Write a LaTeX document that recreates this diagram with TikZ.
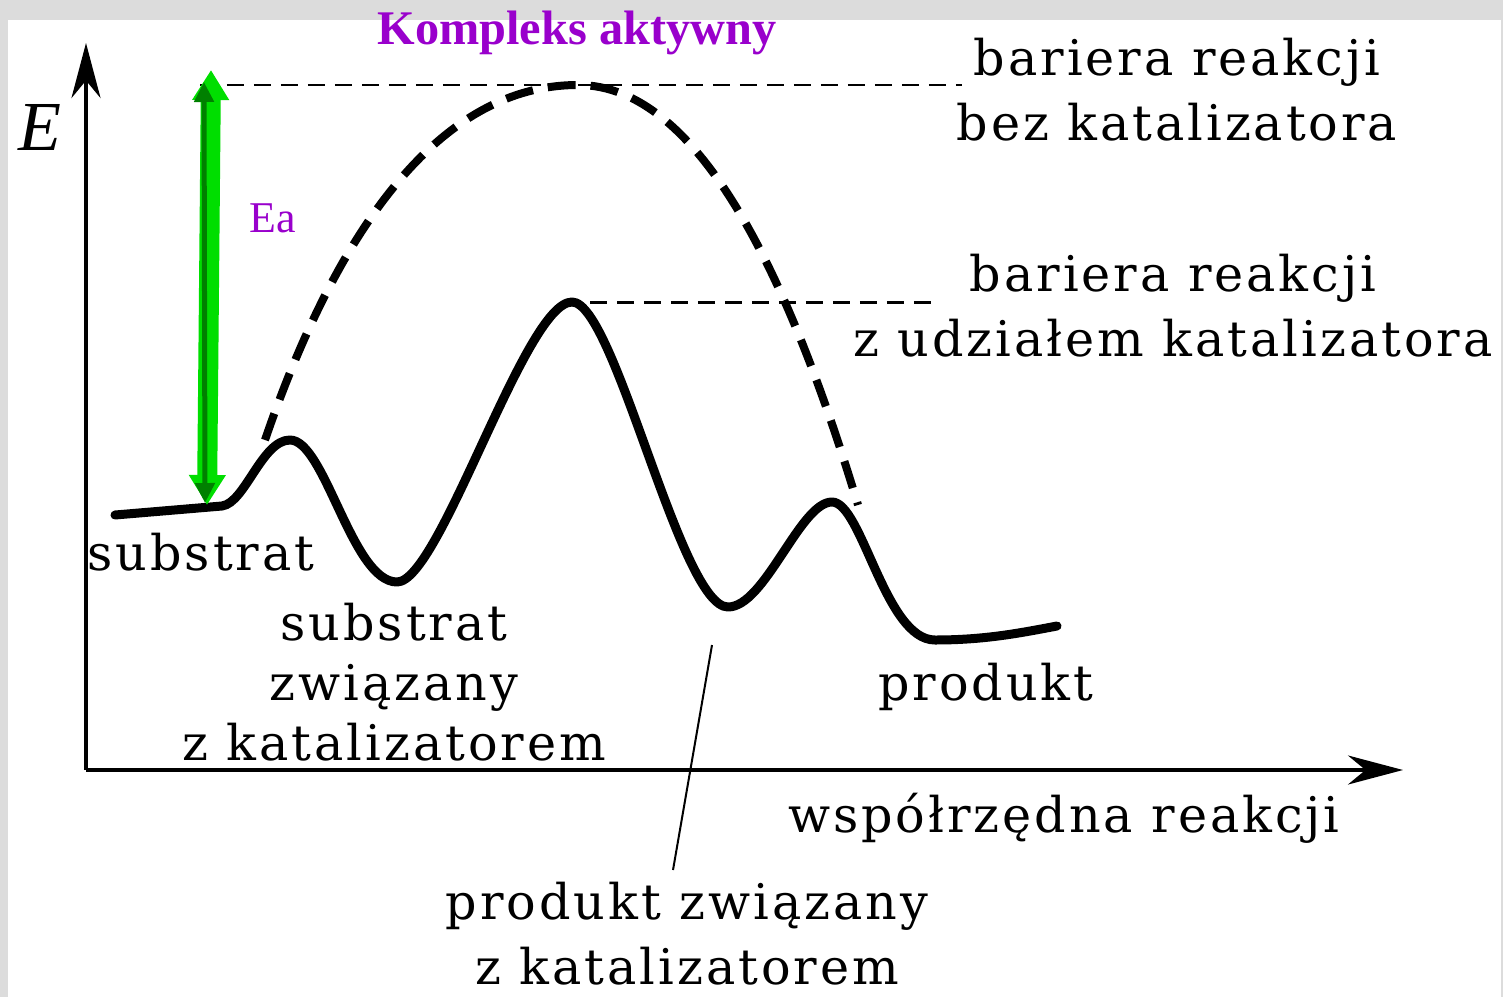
\documentclass[tikz,border=0pt]{standalone}
\usepackage{fontspec}
\setmainfont{DejaVu Serif}[LetterSpace=6]
\newfontfamily\timesfont{Liberation Serif}
\usepackage{xcolor}
\usetikzlibrary{arrows.meta,positioning,calc}
\definecolor{kpurple}{RGB}{153,0,204}
\definecolor{ealight}{RGB}{0,222,0}
\definecolor{eadark}{RGB}{0,128,0}
\definecolor{frame}{RGB}{220,220,220}
\newcommand{\lblfont}{\fontsize{28}{37}\selectfont}

\begin{document}
\begin{tikzpicture}[
    x=0.02cm, y=-0.02cm,
    axis/.style={line width=0.08cm, -{Stealth[length=1.1cm, width=0.58cm, inset=0.35cm]}},
    path/.style={line width=0.18cm, line cap=round, line join=round},
    oldpath/.style={line width=0.16cm, dash pattern=on 0.56cm off 0.3cm},
    level/.style={line width=0.06cm, dash pattern=on 0.34cm off 0.2cm},
    lead/.style={line width=0.04cm},
    lbl/.style={font=\lblfont, align=center, inner sep=0pt},
    tag/.style={font=\timesfont\fontsize{25}{30}\selectfont, text=kpurple, inner sep=0pt}
]
% --- Frame ---
\useasboundingbox (0,0) rectangle (1503,997);
\fill[frame] (0,0) rectangle (1503,997);
\fill[white] (8,20) rectangle (1501,997);

% --- Axes ---
\coordinate (O)    at (86,770);
\coordinate (Ytop) at (86,43);
\coordinate (Xend) at (1403,770);
\draw[axis] (O) -- (Ytop);
\draw[axis] (O) -- (Xend);
\node[inner sep=0pt, font=\timesfont\itshape\fontsize{40}{40}\selectfont] (E) at (40,127) {E};
\node[lbl, anchor=base] (coord) at (1064,832) {współrzędna reakcji};

% --- Barrier levels ---
\coordinate (topL) at (200,85);
\coordinate (topR) at (962,85);
\coordinate (catL) at (590,302);
\coordinate (catR) at (937,302);
\draw[level] (topL) -- (topR);
\draw[level] (catL) -- (catR);

% --- Path without catalyst ---
\draw[oldpath] (265,440) .. controls (330,250) and (430,85) .. (578,85)
    .. controls (700,85) and (790,280) .. (858,505);

% --- Path with catalyst ---
\draw[path] (115,515) -- (222,506)
    .. controls (245,503) and (262,440) .. (290,440)
    .. controls (325,440) and (352,582) .. (397,582)
    .. controls (440,582) and (525,302) .. (572,302)
    .. controls (615,302) and (680,607) .. (728,607)
    .. controls (765,607) and (800,502) .. (832,502)
    .. controls (862,502) and (885,640) .. (935,640)
    .. controls (985,640) and (1020,633) .. (1057,626);

% --- Activation energy ---
\draw[line width=0.4cm, ealight, {Triangle[width=0.7cm, length=0.6cm]}-{Triangle[width=0.7cm, length=0.6cm]}]
    (211,70) -- (207,505);
\draw[line width=0.1cm, eadark, {Triangle[width=0.38cm, length=0.4cm]}-{Triangle[width=0.38cm, length=0.4cm]}]
    (204,82) -- (205,503);
\node[tag, anchor=base] (Ea) at (273,232) {Ea};

% --- Labels ---
\node[font=\timesfont\bfseries\fontsize{27.5}{30}\selectfont, text=kpurple, inner sep=0pt, anchor=base] (kompleks) at (577,45) {Kompleks aktywny};
\node[lbl] (nocat) at (1177,90) {bariera reakcji\\bez katalizatora};
\node[lbl] (withcat) at (1173,306) {bariera reakcji\\z udziałem katalizatora};
\node[lbl, anchor=base] (sub) at (201,570) {substrat};
\node[lbl, font=\fontsize{28}{34}\selectfont] (subcat) at (394,682) {substrat\\związany\\z katalizatorem};
\node[lbl, anchor=base] (prod) at (986,700) {produkt};
\node[lbl] (prodcat) at (687,934) {produkt związany\\z katalizatorem};

% --- Leader ---
\coordinate (prodtip) at (712,645);
\coordinate (prodend) at (673,870);
\draw[lead] (prodtip) -- (prodend);
\end{tikzpicture}
\end{document}
